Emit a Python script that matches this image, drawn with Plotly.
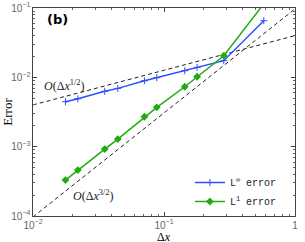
import plotly.graph_objects as go

dx = [0.0177, 0.022, 0.0353, 0.0444, 0.0709, 0.0881, 0.144, 0.179, 0.286, 0.578]
err_inf = [0.00445, 0.00491, 0.00628, 0.00693, 0.00893, 0.0099, 0.01245, 0.01393, 0.01738, 0.0656]
err_l1 = [3.30e-4, 4.59e-4, 9.22e-4, 1.288e-3, 2.70e-3, 3.69e-3, 7.31e-3, 0.0102, 0.0205, 0.115]

ref_x = [0.01, 1.0]
ref_half = [0.04 * x ** 0.5 for x in ref_x]
ref_threehalf = [0.097 * x ** 1.5 for x in ref_x]

fig = go.Figure()
fig.add_trace(go.Scatter(x=ref_x, y=ref_half, mode="lines", showlegend=False,
                         line=dict(color="#222", dash="4px,3px", width=1)))
fig.add_trace(go.Scatter(x=ref_x, y=ref_threehalf, mode="lines", showlegend=False,
                         line=dict(color="#222", dash="4px,3px", width=1)))
fig.add_trace(go.Scatter(x=dx, y=err_inf, mode="lines+markers", name="L<sup>∞</sup> error",
                         line=dict(color="#2e4dff", width=1.5),
                         marker=dict(symbol="cross-thin", size=5, color="#2e4dff",
                                     line=dict(color="#2e4dff", width=1))))
fig.add_trace(go.Scatter(x=dx, y=err_l1, mode="lines+markers", name="L<sup>1</sup> error",
                         line=dict(color="#22aa11", width=1.5),
                         marker=dict(symbol="diamond", size=6, color="#22aa11")))

axis_common = dict(type="log", showgrid=False, zeroline=False, showline=True, automargin=False,
                   linecolor="#444", linewidth=1, mirror="allticks", ticks="inside",
                   ticklen=4, tickcolor="#444", dtick=1, exponentformat="power",
                   tickfont=dict(family="Liberation Sans", size=8, color="#666"),
                   minor=dict(ticks="inside", ticklen=2, tickcolor="#666", dtick="D1"))

fig.update_xaxes(range=[-2, 0], **axis_common)
fig.update_yaxes(range=[-4, -1], **axis_common,
                 title=dict(text="Error", font=dict(family="Liberation Serif", size=13, color="black"), standoff=7))

fig.add_annotation(x=0.5, y=-0.056, xref="paper", yref="paper", text="Δ<i>x</i>", showarrow=False,
                   xanchor="center", yanchor="top",
                   font=dict(family="Liberation Serif", size=12, color="black"))
fig.add_annotation(x=0.045, y=0.945, xref="paper", yref="paper", text="<b>(b)</b>", showarrow=False,
                   font=dict(family="DejaVu Sans", size=13, color="black"), xanchor="left", yanchor="middle")
fig.add_annotation(x=-1.93, y=-2.12, xref="x", yref="y", text="<i>O</i>(Δ<i>x</i><sup>1/2</sup>)",
                   showarrow=False, xanchor="left", yanchor="middle",
                   font=dict(family="Liberation Serif", size=12, color="#222"))
fig.add_annotation(x=-1.71, y=-3.70, xref="x", yref="y", text="<i>O</i>(Δ<i>x</i><sup>3/2</sup>)",
                   showarrow=False, xanchor="left", yanchor="middle",
                   font=dict(family="Liberation Serif", size=12, color="#222"))

fig.update_layout(width=305, height=242, margin=dict(l=33, r=10, t=8, b=26, autoexpand=False),
                  paper_bgcolor="white", plot_bgcolor="white",
                  legend=dict(x=0.95, y=0.0, xanchor="right", yanchor="bottom",
                              bgcolor="rgba(255,255,255,0)",
                              font=dict(family="Liberation Mono", size=10, color="#222"),
                              tracegroupgap=0, itemwidth=30))
fig.write_html("out.html", config={"displayModeBar": False},
               post_script="document.body.style.margin='0';")
